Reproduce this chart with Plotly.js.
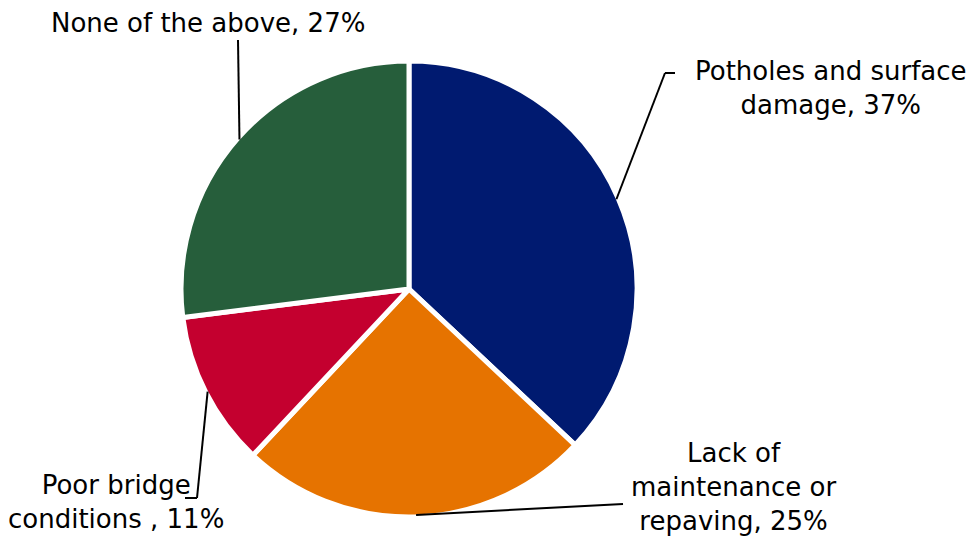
<!DOCTYPE html>
<html>
<head>
<meta charset="utf-8">
<script src="https://cdn.plot.ly/plotly-3.0.1.min.js"></script>
<style>html,body{margin:0;padding:0;background:#fff;}#chart{width:971px;height:537px;}</style>
</head>
<body>
<div id="chart"></div>
<script>
// ---- data ----
const categories = ["Potholes and surface damage", "Lack of maintenance or repaving", "Poor bridge conditions ", "None of the above"];
const values = [37, 25, 11, 27];
const labelLines = [
  ["Potholes and surface", "damage, 37%"],
  ["Lack of", "maintenance or", "repaving, 25%"],
  ["Poor bridge", "conditions , 11%"],
  ["None of the above, 27%"]
];
const colors = ["#001A70", "#E67300", "#C4002F", "#265E3B"];

// ---- layout config (positions in px) ----
const W = 971, H = 537;
const CX = 409, CY = 289, R = 228;
const labelCenters = [[831, 88], [734, 487], [116, 502], [208, 23]];
const leaderPaths = [
  [[665, 73], [675, 73]],
  [[623, 504]],
  [[197, 498], [185, 498]],
  [[238, 40]]
];

const px = x => x / W;
const py = y => 1 - y / H;

const total = values.reduce((a, b) => a + b, 0);
const shapes = [];
const annotations = [];
let cum = 0;
values.forEach((v, i) => {
  const theta = 2 * Math.PI * (cum + v / 2) / total;
  cum += v;
  let pts = [[CX + (R - 2) * Math.sin(theta), CY - (R - 2) * Math.cos(theta)]].concat(leaderPaths[i]);
  for (let k = 0; k < pts.length - 1; k++) {
    shapes.push({type: "line", xref: "paper", yref: "paper",
      x0: px(pts[k][0]), y0: py(pts[k][1]), x1: px(pts[k + 1][0]), y1: py(pts[k + 1][1]),
      line: {color: "#000", width: 2}});
  }
  annotations.push({xref: "paper", yref: "paper", x: px(labelCenters[i][0]), y: py(labelCenters[i][1]),
    xanchor: "center", yanchor: "middle", align: "center", showarrow: false,
    text: labelLines[i].join("<br>"),
    font: {family: "DejaVu Sans", size: 26, color: "#000"}});
});

const trace = {
  type: "pie",
  labels: categories,
  values: values,
  sort: false,
  direction: "clockwise",
  rotation: 0,
  textinfo: "none",
  hoverinfo: "none",
  marker: {colors: colors, line: {color: "#ffffff", width: 5}},
  domain: {x: [(CX - R) / W, (CX + R) / W], y: [1 - (CY + R) / H, 1 - (CY - R) / H]},
  showlegend: false
};

Plotly.newPlot("chart", [trace], {
  width: W, height: H,
  margin: {l: 0, r: 0, t: 0, b: 0},
  paper_bgcolor: "#fff",
  showlegend: false,
  shapes: shapes,
  annotations: annotations
}, {displayModeBar: false, staticPlot: true});
</script>
</body>
</html>
